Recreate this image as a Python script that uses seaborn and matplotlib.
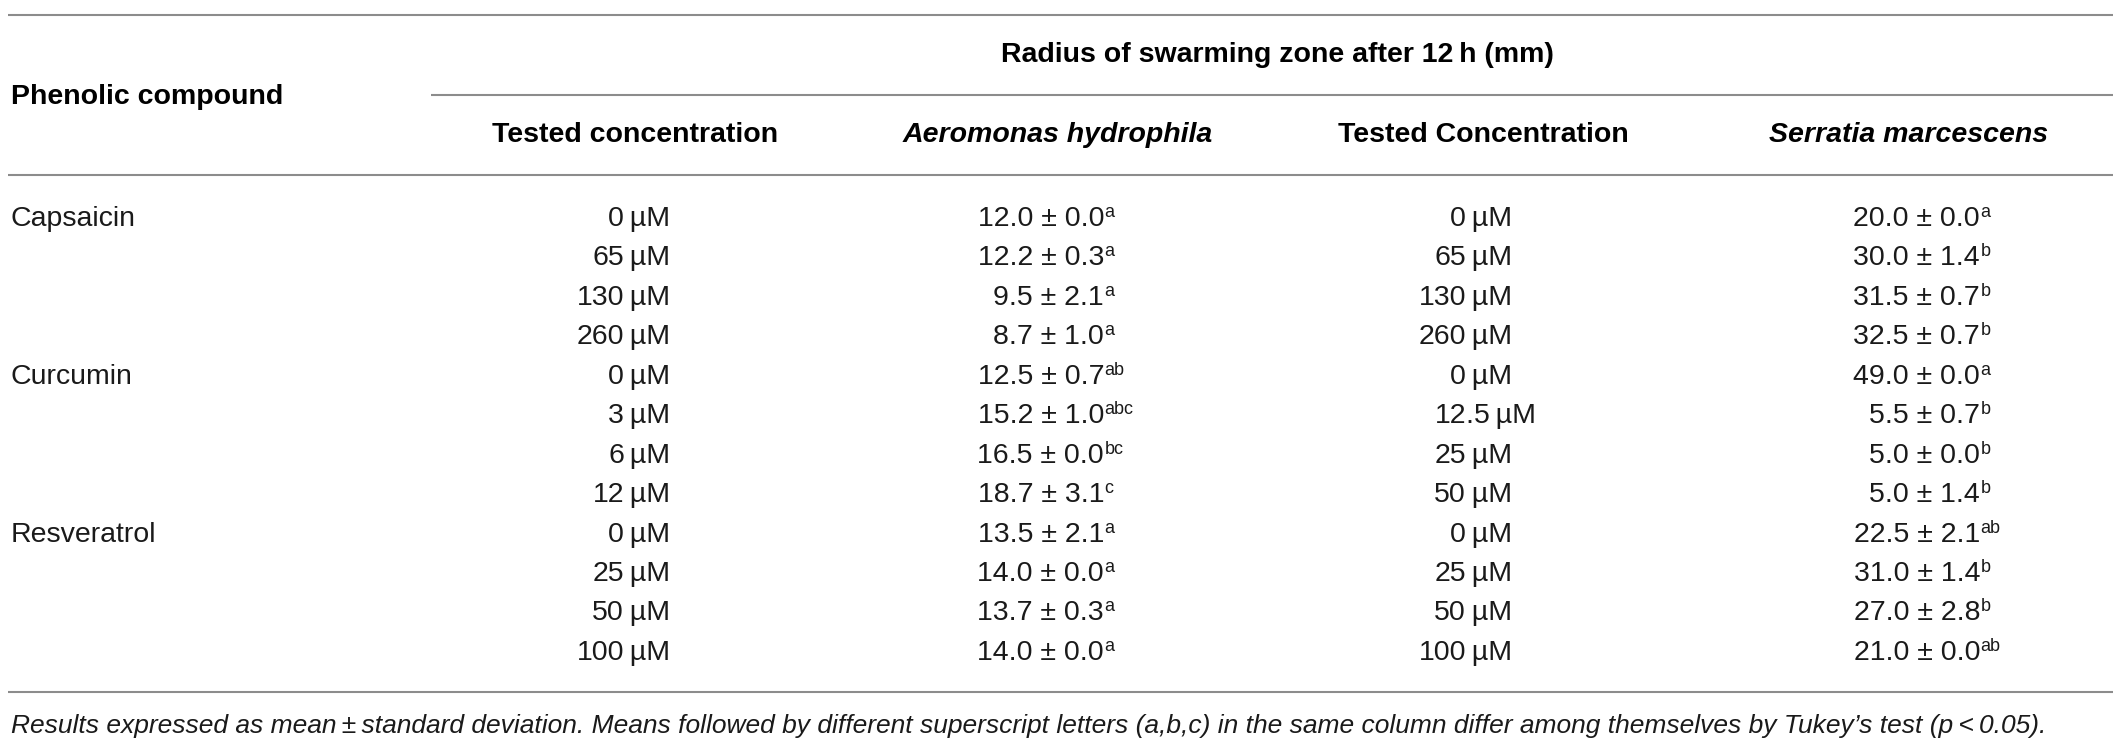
import numpy as np
import pandas as pd
import matplotlib
matplotlib.use("Agg")
import matplotlib.pyplot as plt
import seaborn as sns

# table content
compounds = ["Capsaicin", "Curcumin", "Resveratrol"]
compound_rows = [0, 4, 8]

conc_ah = ["0", "65", "130", "260", "0", "3", "6", "12", "0", "25", "50", "100"]
ah_mean = [12.0, 12.2, 9.5, 8.7, 12.5, 15.2, 16.5, 18.7, 13.5, 14.0, 13.7, 14.0]
ah_sd = [0.0, 0.3, 2.1, 1.0, 0.7, 1.0, 0.0, 3.1, 2.1, 0.0, 0.3, 0.0]
ah_sup = ["a", "a", "a", "a", "ab", "abc", "bc", "c", "a", "a", "a", "a"]

conc_sm = ["0", "65", "130", "260", "0", "12.5", "25", "50", "0", "25", "50", "100"]
sm_mean = [20.0, 30.0, 31.5, 32.5, 49.0, 5.5, 5.0, 5.0, 22.5, 31.0, 27.0, 21.0]
sm_sd = [0.0, 1.4, 0.7, 0.7, 0.0, 0.7, 0.0, 1.4, 2.1, 1.4, 2.8, 0.0]
sm_sup = ["a", "b", "b", "b", "a", "b", "b", "b", "ab", "b", "b", "ab"]

title = "Radius of swarming zone after 12\u2009h (mm)"
col_headers = ["Tested concentration", "Aeromonas hydrophila",
               "Tested Concentration", "Serratia marcescens"]
footnote = ("Results expressed as mean\u2009\u00b1\u2009standard deviation. Means followed by "
            "different superscript letters (a,b,c) in the same column differ among "
            "themselves by Tukey\u2019s test (p\u2009<\u20090.05).")

df = pd.DataFrame({"conc_ah": conc_ah, "ah_mean": ah_mean, "ah_sd": ah_sd, "ah_sup": ah_sup,
                   "conc_sm": conc_sm, "sm_mean": sm_mean, "sm_sd": sm_sd, "sm_sup": sm_sup})

sns.set_theme(style="white")
plt.rcParams['font.family'] = ['Liberation Sans', 'DejaVu Sans']

W, H = 2128, 752
fig = plt.figure(figsize=(W / 100, H / 100), dpi=100)
ax = fig.add_axes([0, 0, 1, 1])
ax.set_xlim(0, W)
ax.set_ylim(H, 0)
ax.axis("off")

rule_color = "#8c8c8c"
txt_color = "#1a1a1a"
fs = 20.5
fs_sup = 13

# horizontal rules
ax.hlines([15, 175, 692], 8, 2113, color=rule_color, lw=1.5)
ax.hlines(95, 431, 2113, color=rule_color, lw=1.5)

# headers
ax.text(1277, 55, title, ha="center", va="center", fontsize=fs, fontweight="bold", color="black")
ax.text(11, 97, "Phenolic compound", ha="left", va="center", fontsize=fs,
        fontweight="bold", color="black")
head_x = [635, 1058, 1483, 1909]
for i, (hx, label) in enumerate(zip(head_x, col_headers)):
    ax.text(hx, 135, label, ha="center", va="center", fontsize=fs, fontweight="bold",
            fontstyle="italic" if i % 2 else "normal", color="black")

row_y = 219 + np.arange(len(df)) * 39.45

for name, r in zip(compounds, compound_rows):
    ax.text(11, row_y[r], name, ha="left", va="center", fontsize=fs, color=txt_color)


def conc_cell(x_dec, y, value):
    # decimal aligned: integer part to the left, rest to the right
    whole, _, frac = value.partition(".")
    rest = ("." + frac if frac else "") + "\u2009\u00b5M"
    ax.text(x_dec, y, whole, ha="right", va="center", fontsize=fs, color=txt_color)
    ax.text(x_dec, y, rest, ha="left", va="center", fontsize=fs, color=txt_color)


def value_cell(x_end, y, mean, sd, sup):
    t = ax.text(x_end, y, f"{mean:.1f} \u00b1 {sd:.1f}", ha="right", va="center",
                fontsize=fs, color=txt_color)
    ax.annotate(sup, xy=(1, 1), xycoords=t, xytext=(0.5, 1.5), textcoords="offset points",
                ha="left", va="top", fontsize=fs_sup, color=txt_color)


for i, row in df.iterrows():
    y = row_y[i]
    conc_cell(624, y, row["conc_ah"])
    value_cell(1104, y, row["ah_mean"], row["ah_sd"], row["ah_sup"])
    conc_cell(1466, y, row["conc_sm"])
    value_cell(1980, y, row["sm_mean"], row["sm_sd"], row["sm_sup"])

ax.text(11, 726, footnote, ha="left", va="center", fontsize=19, fontstyle="italic",
        color=txt_color)

fig.savefig("out.png", dpi=100, facecolor="white")
